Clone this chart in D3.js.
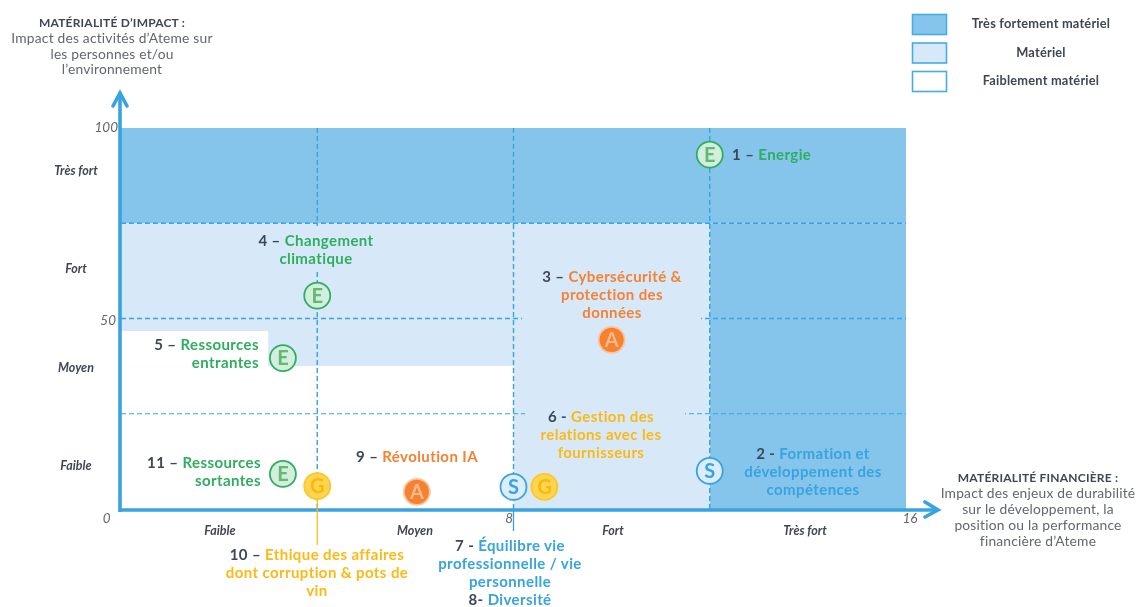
<!DOCTYPE html>
<html><head><meta charset="utf-8">
<script src="https://cdn.jsdelivr.net/npm/d3@7/dist/d3.min.js"></script>
<style>
html,body{margin:0;padding:0;background:#fff}
svg{display:block;filter:blur(0.3px)}
text{font-family:Lato,"Open Sans",sans-serif}
</style></head><body>
<svg id="c" width="1137" height="607"></svg>
<script>
// ---- data ----
const xMax = 16, yMax = 100;
const xTicks = [0, 8, 16];
const yTicks = [50, 100];
const levels = ["Faible", "Moyen", "Fort", "Très fort"];
const legendNames = ["Très fortement matériel", "Matériel", "Faiblement matériel"];
const gridX = [4, 8, 12];
const gridY = [25, 50, 75];
const pillars = ["E", "E", "A", "E", "E", "G", "A", "S", "G", "S"];
const issueX = [12, 4, 10, 3.3, 3.3, 4, 6.03, 8, 8.63, 12];
const issueY = [93, 56, 44.4, 39.6, 9.2, 6, 4.5, 5.8, 5.8, 10];
// zones as [x0, x1, y0, y1, tier]
const zones = [
  [0, 16, 75, 100, 0],
  [12, 16, 0, 75, 0],
  [0, 12, 37.5, 75, 1],
  [8, 12, 0, 75, 1],
  [0, 3, 37.5, 46.7, 2]
];
const labelNums = ["1 –", "2 -", "3 –", "4 –", "5 –", "6 -", "7 -", "8-", "9 –", "10 –", "11 –"];
const labelLines = [
  ["Energie"],
  ["Formation et", "développement des", "compétences"],
  ["Cybersécurité &", "protection des", "données"],
  ["Changement", "climatique"],
  ["Ressources", "entrantes"],
  ["Gestion des", "relations avec les", "fournisseurs"],
  ["Équilibre vie", "professionnelle / vie", "personnelle"],
  ["Diversité"],
  ["Révolution IA"],
  ["Ethique des affaires", "dont corruption & pots de", "vin"],
  ["Ressources", "sortantes"]
];
const labelPillar = ["E", "S", "A", "E", "E", "G", "S", "S", "A", "G", "E"];
const yAxisTitle = ["MATÉRIALITÉ D’IMPACT :", "Impact des activités d’Ateme sur", "les personnes et/ou", "l’environnement"];
const xAxisTitle = ["MATÉRIALITÉ FINANCIÈRE :", "Impact des enjeux de durabilité", "sur le développement, la", "position ou la performance", "financière d’Ateme"];

// ---- layout and style ----
const blue = "#37a3e0", dark = "#86c5eb", light = "#d7e9f8", ink = "#3f4654", grey = "#62666e";
const tierFill = [dark, light, "#fff"];
const pillarStyle = {
  E: {stroke: "#33ad62", fill: "#d2eedd", text: "#63b873", label: "#2fae60"},
  A: {stroke: "#f9c4a0", fill: "#f6812f", text: "#fbb98c", label: "#f58233"},
  S: {stroke: "#37a3e0", fill: "#dcedf9", text: "#37a3e0", label: "#37a3e0"},
  G: {stroke: "#fdc91e", fill: "#fed457", text: "#fcb900", label: "#fdb913"}
};
const labelPos = [
  [732, 160, "start"], [813, 459, "middle"], [612, 282, "middle"], [316, 246, "middle"],
  [259, 350, "end"], [601, 422, "middle"], [510, 551, "middle"], [510, 605, "middle"],
  [417, 462, "middle"], [317, 560, "middle"], [261, 468, "end"]
];
const svg = d3.select("#c");
const x = d3.scaleLinear().domain([0, xMax]).range([121, 906]);
const y = d3.scaleLinear().domain([0, yMax]).range([509, 128]);
const xLevel = d3.scaleOrdinal().domain(levels).range([220, 415, 613, 805]);
const yLevel = d3.scaleOrdinal().domain(levels).range([466, 368, 269, 171]);

// zones
svg.append("g").selectAll("rect").data(zones).join("rect")
  .attr("x", d => x(d[0])).attr("width", d => x(d[1]) - x(d[0]))
  .attr("y", d => y(d[3])).attr("height", d => y(d[2]) - y(d[3]))
  .attr("fill", d => tierFill[d[4]]);

// dashed grid
const gv = svg.append("g"), gh = svg.append("g");
gh.selectAll("line").data(gridY).join("line")
  .attr("x1", x(0)).attr("x2", x(xMax)).attr("y1", d => y(d)).attr("y2", d => y(d))
  .attr("stroke", blue).attr("stroke-width", d => d === 25 ? 1.1 : 1.6).attr("stroke-dasharray", "5 3");
gv.selectAll("line").data(gridX).join("line")
  .attr("y1", y(yMax)).attr("y2", y(0)).attr("x1", d => x(d)).attr("x2", d => x(d))
  .attr("stroke", blue).attr("stroke-width", 1.4).attr("stroke-dasharray", "5 3");
// label boxes that interrupt the grid
svg.append("g").selectAll("rect").data([[522, 314, 179, 10], [525, 409, 160, 10], [311, 226, 13, 46]]).join("rect")
  .attr("x", d => d[0]).attr("y", d => d[1]).attr("width", d => d[2]).attr("height", d => d[3]).attr("fill", light);

// axes
const axX = d3.axisBottom(x).tickValues(xTicks).tickSize(0).tickPadding(0);
const axY = d3.axisLeft(y).tickValues(yTicks).tickSize(0).tickPadding(0);
const gx = svg.append("g").attr("transform", "translate(0,509)").call(axX);
const gy = svg.append("g").attr("transform", "translate(121,0)").call(axY);
gx.select(".domain").remove(); gy.select(".domain").remove();
gx.selectAll("text").attr("font-family", "Lato").attr("font-style", "italic").attr("font-size", 13.5).attr("fill", grey)
  .attr("text-anchor", "end").attr("dy", 0).attr("y", 14).attr("x", d => d === 0 ? -11 : d === 8 ? -1 : 11);
gy.selectAll("text").attr("font-family", "Lato").attr("font-style", "italic").attr("font-size", 13.5).attr("fill", grey)
  .attr("text-anchor", "end").attr("dy", 0).attr("x", d => d === 100 ? -3 : -5).attr("y", d => d === 100 ? 3 : 6);

// tick at 8 and axis lines with arrowheads
svg.append("line").attr("x1", x(8)).attr("x2", x(8)).attr("y1", y(0)).attr("y2", 531).attr("stroke", blue).attr("stroke-width", 1.3);
svg.append("line").attr("x1", x(0) - 1.5).attr("x2", 936).attr("y1", y(0) + 1).attr("y2", y(0) + 1).attr("stroke", blue).attr("stroke-width", 3.6);
svg.append("line").attr("x1", x(0) - 1).attr("x2", x(0) - 1).attr("y1", y(0) + 3).attr("y2", 94).attr("stroke", blue).attr("stroke-width", 3.6);
const arrow = d3.line();
svg.append("path").attr("d", arrow([[113, 106], [120, 93], [127, 106]])).attr("fill", "none").attr("stroke", blue).attr("stroke-width", 3.6).attr("stroke-linecap", "round");
svg.append("path").attr("d", arrow([[925, 502], [938, 510], [925, 517]])).attr("fill", "none").attr("stroke", blue).attr("stroke-width", 3.6).attr("stroke-linecap", "round");

// connector of issue 10
svg.append("line").attr("x1", x(4)).attr("x2", x(4)).attr("y1", 496).attr("y2", 545).attr("stroke", pillarStyle.G.label).attr("stroke-width", 1.2);

// level labels
svg.append("g").selectAll("text").data(levels).join("text")
  .attr("x", d => xLevel(d)).attr("y", 535).attr("text-anchor", "middle")
  .attr("font-size", 12.5).attr("font-style", "italic").attr("font-weight", 700).attr("fill", ink).text(d => d);
svg.append("g").selectAll("text").data(levels).join("text")
  .attr("x", 76).attr("y", d => yLevel(d) + 4).attr("text-anchor", "middle")
  .attr("font-size", 12.5).attr("font-style", "italic").attr("font-weight", 700).attr("fill", ink).text(d => d);

// issue markers
const mk = svg.append("g").selectAll("g").data(pillars).join("g")
  .attr("transform", (d, i) => `translate(${x(issueX[i])},${y(issueY[i])})`);
mk.append("circle").attr("r", 13).attr("stroke-width", 1.8)
  .attr("fill", d => pillarStyle[d].fill).attr("stroke", d => pillarStyle[d].stroke);
mk.append("text").attr("text-anchor", "middle").attr("y", 7).attr("font-size", 20).attr("font-weight", 700)
  .attr("fill", d => pillarStyle[d].text).text(d => d);

// issue labels
const lab = svg.append("g").selectAll("text").data(labelLines).join("text")
  .attr("font-size", 15).attr("font-weight", 700).attr("letter-spacing", 0.4)
  .attr("text-anchor", (d, i) => labelPos[i][2]);
lab.each(function (lines, i) {
  const t = d3.select(this), col = pillarStyle[labelPillar[i]].label, px = labelPos[i][0], py = labelPos[i][1];
  lines.forEach((ln, k) => {
    if (k === 0) {
      t.append("tspan").attr("x", px).attr("y", py).attr("fill", ink).text(labelNums[i] + " ");
      t.append("tspan").attr("fill", col).text(ln);
    } else {
      t.append("tspan").attr("x", px).attr("y", py + 18 * k).attr("fill", col).text(ln);
    }
  });
});

// axis titles
function title(lines, cx, y0, dy) {
  svg.append("g").selectAll("text").data(lines).join("text")
    .attr("x", cx).attr("y", (d, i) => y0 + i * dy).attr("text-anchor", "middle")
    .attr("font-size", (d, i) => i ? 13.8 : 12).attr("font-weight", (d, i) => i ? 400 : 700)
    .attr("fill", (d, i) => i ? grey : ink).attr("letter-spacing", 0.2).text(d => d);
}
title(yAxisTitle, 112, 27, 15.8);
title(xAxisTitle, 1038, 482, 16);

// legend
const legY = d3.scalePoint().domain(legendNames).range([24, 81]);
const lg = svg.append("g").selectAll("g").data(legendNames).join("g").attr("transform", d => `translate(0,${legY(d)})`);
lg.append("rect").attr("x", 912.5).attr("y", -9.5).attr("width", 34).attr("height", 20).attr("stroke", "#45ace5").attr("stroke-width", 1.6)
  .attr("fill", (d, i) => tierFill[i]);
lg.append("text").attr("x", 1041).attr("y", 4).attr("text-anchor", "middle").attr("font-size", 12.8).attr("font-weight", 700).attr("fill", ink).attr("letter-spacing", 0.2).text(d => d);
</script>
</body></html>
